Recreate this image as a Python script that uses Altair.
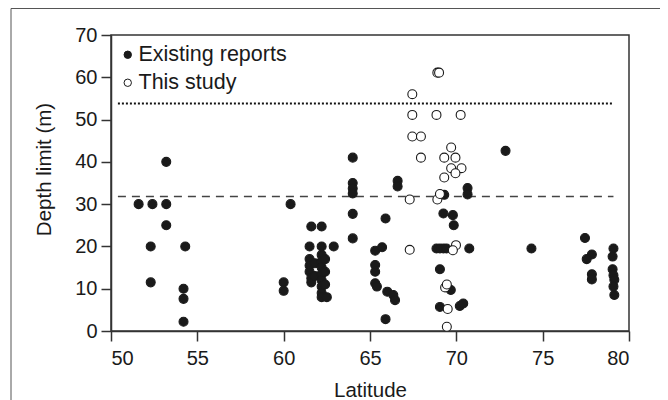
import altair as alt
import pandas as pd

# ---- data ----
existing_lat = [53.2, 51.6, 52.4, 53.2, 53.2, 52.3, 54.3, 52.3, 54.2, 54.2, 54.2,
                60.4, 60.0, 60.0,
                61.6, 62.2, 61.5, 62.2, 62.9,
                61.5, 61.5, 61.5, 61.6, 61.6, 61.8, 61.8,
                62.2, 62.2, 62.2, 62.2, 62.2, 62.2, 62.2, 62.2,
                62.4, 62.4, 62.4, 62.5,
                64.0, 64.0, 64.0, 64.0, 64.0, 64.0,
                65.9, 65.3, 65.7, 65.3, 65.3, 65.3, 65.4, 66.0, 66.35, 66.45, 65.9,
                66.6, 66.6,
                69.3, 70.65, 70.65, 69.25, 69.8, 69.85,
                68.85, 69.05, 69.25, 69.43, 70.75,
                69.05, 69.68, 69.05, 70.2, 70.4,
                72.85, 74.35,
                77.45, 77.85, 77.55, 77.85, 77.85,
                79.1, 79.05, 79.05, 79.1, 79.15, 79.1, 79.15]
existing_depth = [40, 30, 30, 30, 25, 20, 20, 11.5, 10, 7.6, 2.2,
                  30, 11.5, 9.5,
                  24.7, 24.7, 20, 20, 20,
                  17, 15.5, 14, 12.5, 11.5, 16, 13,
                  18, 16.5, 15, 13.5, 12, 10.5, 9, 8,
                  17, 14, 11, 8,
                  41, 35, 33.7, 32.5, 27.7, 21.9,
                  26.6, 19, 19.8, 15.6, 14, 11.3, 10.5, 9.3, 8.5, 7.3, 2.8,
                  35.5, 34.2,
                  32.2, 33.8, 32.3, 27.8, 27.4, 25,
                  19.5, 19.5, 19.5, 19.5, 19.5,
                  14.6, 9.7, 5.7, 5.9, 6.5,
                  42.6, 19.5,
                  22, 18.1, 17, 13.4, 12.2,
                  19.5, 17.6, 14.6, 13.2, 12.1, 10.5, 8.5]

study_lat = [67.3, 67.3, 68.9, 69.0, 67.45, 67.45, 68.85, 70.25, 67.45, 67.95,
             69.7, 67.95, 69.3, 69.95, 69.7, 70.3, 69.95, 69.3,
             68.9, 69.05, 69.98, 69.8, 69.35, 69.45, 69.5, 69.45]
study_depth = [31.1, 19.2, 61.1, 61.1, 56, 51.1, 51.1, 51.1, 46, 46,
               43.4, 41, 41, 41, 38.5, 38.5, 37.3, 36.3,
               31.1, 32.4, 20.3, 19.1, 10.3, 11, 5.2, 1.0]

series_names = ["Existing reports", "This study"]
line_depths = [31.8, 53.8]
line_start = 50.4
line_end = 79.1

x_ticks = [50, 55, 60, 65, 70, 75, 80]
y_ticks = [0, 10, 20, 30, 40, 50, 60, 70]

df = pd.DataFrame({
    "lat": existing_lat + study_lat,
    "depth": existing_depth + study_depth,
    "series": [series_names[0]] * len(existing_lat) + [series_names[1]] * len(study_lat),
})

FONT = "Liberation Sans"
INK = "#1a1a1a"

x_scale = alt.Scale(domain=[50, 80], nice=False, zero=False)
y_scale = alt.Scale(domain=[0, 70], nice=False, zero=False)

# outer figure frame (top and left edges only; the others run off the page)
frame_top = alt.Chart(pd.DataFrame({"k": [0]})).mark_rule(
    color="#555555", strokeWidth=1
).encode(x=alt.value(-100), x2=alt.value(560), y=alt.value(-26.5))
frame_left = alt.Chart(pd.DataFrame({"k": [0]})).mark_rule(
    color="#555555", strokeWidth=1
).encode(x=alt.value(-100), y=alt.value(-26.5), y2=alt.value(400))

dashed = alt.Chart(pd.DataFrame({"y": [line_depths[0]], "x1": [line_start], "x2": [line_end]})).mark_rule(
    color="#444444", strokeWidth=1.5, strokeDash=[8, 6]
).encode(
    x=alt.X("x1:Q", scale=x_scale), x2="x2:Q", y=alt.Y("y:Q", scale=y_scale)
)

dotted = alt.Chart(pd.DataFrame({"y": [line_depths[1]], "x1": [line_start], "x2": [line_end]})).mark_rule(
    color="#111111", strokeWidth=2.2, strokeDash=[2, 2]
).encode(
    x=alt.X("x1:Q", scale=x_scale), x2="x2:Q", y=alt.Y("y:Q", scale=y_scale)
)

points = alt.Chart(df).mark_point(
    filled=True, size=80, strokeWidth=1.1, opacity=1, shape="circle"
).encode(
    x=alt.X("lat:Q", scale=x_scale,
            axis=alt.Axis(title="Latitude", values=x_ticks, format="d", grid=False,
                          labelPadding=7, titlePadding=12)),
    y=alt.Y("depth:Q", scale=y_scale,
            axis=alt.Axis(title="Depth limit (m)", values=y_ticks, format="d", grid=False,
                          titleX=-67, titleY=134, titleAngle=-90,
                          titleAlign="center", titleBaseline="middle")),
    fill=alt.Fill("series:N",
                  scale=alt.Scale(domain=series_names, range=[INK, "white"]),
                  legend=alt.Legend(orient="none", legendX=6, legendY=9, title=None,
                                    symbolSize=55, symbolType="circle",
                                    symbolStrokeColor=INK, symbolStrokeWidth=1,
                                    labelFontSize=21.5, labelFont=FONT, labelColor=INK,
                                    rowPadding=5, labelOffset=0, padding=0)),
    stroke=alt.value(INK),
)

chart = alt.layer(frame_top, frame_left, dashed, dotted, points).properties(
    width=518, height=296,
    autosize=alt.AutoSizeParams(type="none"),
    padding={"left": 103, "top": 27, "right": 31, "bottom": 77},
).configure_view(
    stroke="#333333", strokeWidth=1.5
).configure_axis(
    labelFont=FONT, titleFont=FONT, labelFontSize=20, titleFontSize=20.5,
    labelColor=INK, titleColor=INK, titleFontWeight="normal",
    domainColor="#333333", domainWidth=1.5, tickColor="#333333", tickWidth=1.5,
    tickSize=10, labelPadding=4
)

chart.save("out.html", embed_options={"renderer": "svg", "actions": False})
